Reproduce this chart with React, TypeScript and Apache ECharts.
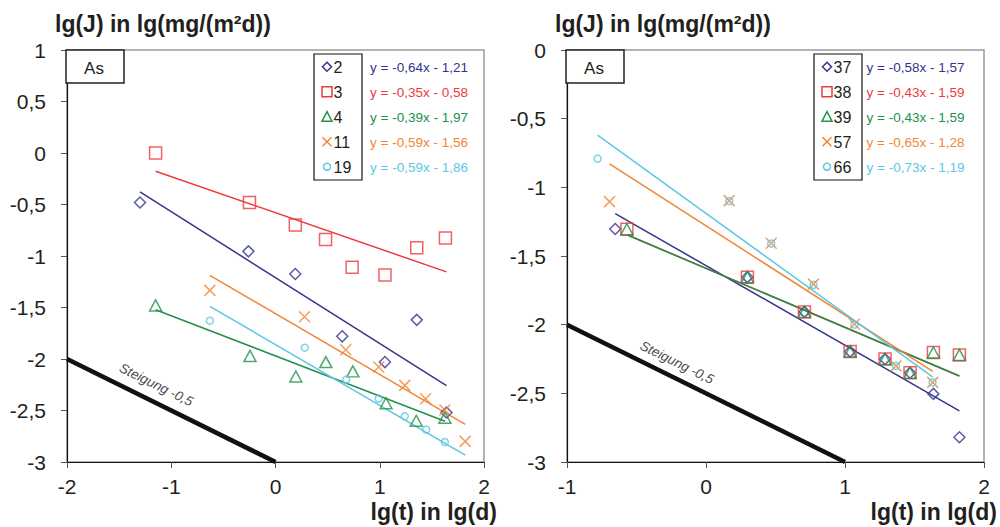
import React, { useEffect, useRef } from "react";
import * as echarts from "echarts";

// ---------- colours ----------
const NAVY = "#34348f";
const RED = "#ee3a3c";
const GREEN = "#24904a";
const ORANGE = "#f08636";
const CYAN = "#5cc8e2";
const TEXT = "#231f20";

// ---------- left panel ----------
const leftNames = ["2", "3", "4", "11", "19"];
const leftEquations = [
  "y = -0,64x - 1,21",
  "y = -0,35x - 0,58",
  "y = -0,39x - 1,97",
  "y = -0,59x - 1,56",
  "y = -0,59x - 1,86",
];
const leftSlopes = [-0.64, -0.35, -0.39, -0.59, -0.59];
const leftIntercepts = [-1.21, -0.58, -1.97, -1.56, -1.86];
const leftTrendX = [
  [-1.3, 1.64],
  [-1.15, 1.64],
  [-1.15, 1.625],
  [-0.63, 1.82],
  [-0.63, 1.82],
];
const l2x = [-1.3, -0.26, 0.19, 0.64, 1.05, 1.355, 1.64];
const l2y = [-0.48, -0.955, -1.175, -1.78, -2.03, -1.62, -2.52];
const l3x = [-1.15, -0.25, 0.19, 0.48, 0.735, 1.05, 1.355, 1.63];
const l3y = [0.0, -0.48, -0.7, -0.84, -1.11, -1.185, -0.92, -0.825];
const l4x = [-1.15, -0.245, 0.195, 0.483, 0.742, 1.06, 1.35, 1.625];
const l4y = [-1.48, -1.97, -2.17, -2.03, -2.12, -2.43, -2.6, -2.57];
const l11x = [-0.63, 0.278, 0.674, 0.99, 1.24, 1.44, 1.625, 1.82];
const l11y = [-1.334, -1.59, -1.91, -2.078, -2.256, -2.386, -2.495, -2.8];
const l19x = [-0.63, 0.28, 0.678, 0.99, 1.24, 1.445, 1.625];
const l19y = [-1.628, -1.89, -2.2, -2.385, -2.557, -2.686, -2.806];
const leftSlopeRefX = [-2, 0];
const leftSlopeRefY = [-2, -3];
const leftSlopeLabelAt = [-1.144, -2.25];

// ---------- right panel ----------
const rightNames = ["37", "38", "39", "57", "66"];
const rightEquations = [
  "y = -0,58x - 1,57",
  "y = -0,43x - 1,59",
  "y = -0,43x - 1,59",
  "y = -0,65x - 1,28",
  "y = -0,73x - 1,19",
];
const rightSlopes = [-0.58, -0.43, -0.43, -0.65, -0.73];
const rightIntercepts = [-1.57, -1.59, -1.59, -1.28, -1.19];
const rightTrendX = [
  [-0.653, 1.823],
  [-0.569, 1.823],
  [-0.569, 1.823],
  [-0.694, 1.631],
  [-0.78, 1.63],
];
const r37x = [-0.653, 0.298, 0.708, 1.037, 1.288, 1.468, 1.636, 1.823];
const r37y = [-1.303, -1.654, -1.907, -2.196, -2.25, -2.35, -2.504, -2.82];
const r38x = [-0.569, 0.298, 0.708, 1.037, 1.288, 1.468, 1.636, 1.823];
const r38y = [-1.305, -1.654, -1.907, -2.196, -2.25, -2.35, -2.203, -2.22];
const r39x = [-0.569, 0.298, 0.708, 1.037, 1.288, 1.468, 1.636, 1.823];
const r39y = [-1.305, -1.654, -1.907, -2.196, -2.25, -2.35, -2.203, -2.22];
const r57x = [-0.694, 0.167, 0.469, 0.773, 1.068, 1.367, 1.631];
const r57y = [-1.104, -1.097, -1.407, -1.705, -1.997, -2.3, -2.42];
const r66x = [-0.78, 0.167, 0.469, 0.773, 1.068, 1.367, 1.63];
const r66y = [-0.791, -1.1, -1.41, -1.71, -2.0, -2.3, -2.42];
const rightSlopeRefX = [-1, 1];
const rightSlopeRefY = [-2, -3];
const rightSlopeLabelAt = [-0.209, -2.275];

// ---------- axis ticks ----------
const leftXTicks = { min: -2, max: 2, interval: 1 };
const leftYTicks = { min: -3, max: 1, interval: 0.5 };
const rightXTicks = { min: -1, max: 2, interval: 1 };
const rightYTicks = { min: -3, max: 0, interval: 0.5 };

const seriesColors = [NAVY, RED, GREEN, ORANGE, CYAN];
const CROSS = "path://M0,0L10,10M0,10L10,0";
const markerSymbols = ["diamond", "rect", "triangle", CROSS, "circle"];
const markerSizes: any[] = [11, 12, [12, 11], 11, 7];

const zip = (xs: number[], ys: number[]) => xs.map((x, i) => [x, ys[i]]);

const fmt = (v: number) => String(v).replace(".", ",");

function buildPanel(
  idx: number,
  xs: number[][],
  ys: number[][],
  names: string[],
  slopes: number[],
  intercepts: number[],
  trendX: number[][],
  refX: number[],
  refY: number[],
  labelAt: number[]
) {
  const out: any[] = [];
  // trend lines
  names.forEach((n, i) => {
    const [a, b] = trendX[i];
    out.push({
      type: "line",
      name: "trend " + n,
      xAxisIndex: idx,
      yAxisIndex: idx,
      data: [
        [a, slopes[i] * a + intercepts[i]],
        [b, slopes[i] * b + intercepts[i]],
      ],
      symbol: "none",
      lineStyle: { color: seriesColors[i], width: 1.5 },
      z: 2,
      silent: true,
    });
  });
  // reference slope line
  out.push({
    type: "line",
    name: "Steigung " + idx,
    xAxisIndex: idx,
    yAxisIndex: idx,
    data: zip(refX, refY),
    symbol: "none",
    lineStyle: { color: "#111", width: 4.5 },
    z: 2,
    silent: true,
  });
  out.push({
    type: "scatter",
    name: "Steigung label " + idx,
    xAxisIndex: idx,
    yAxisIndex: idx,
    data: [labelAt],
    symbolSize: 0,
    silent: true,
    label: {
      show: true,
      position: "inside",
      formatter: "Steigung -0,5",
      rotate: -26.3,
      fontSize: 13.5,
      fontStyle: "italic",
      color: "#111",
      fontFamily: "Liberation Sans, Arial, sans-serif",
    },
    z: 4,
  });
  // scatter points
  names.forEach((n, i) => {
    out.push({
      type: "scatter",
      name: n,
      xAxisIndex: idx,
      yAxisIndex: idx,
      data: zip(xs[i], ys[i]),
      symbol: markerSymbols[i],
      symbolSize: markerSizes[i],
      itemStyle: {
        color: "rgba(0,0,0,0)",
        borderColor: seriesColors[i],
        borderWidth: 1.5,
      },
      z: 3,
      silent: true,
    });
  });
  return out;
}

function legendGraphics(
  boxX: number,
  names: string[],
  equations: string[],
  eqX: number
) {
  const els: any[] = [];
  const top = 54;
  els.push({
    type: "rect",
    shape: { x: boxX, y: top, width: 48, height: 126 },
    style: { fill: "#fff", stroke: "#111", lineWidth: 1.2 },
    z: 10,
  });
  const cx = boxX + 13;
  names.forEach((n, i) => {
    const cy = 66.7 + i * 25;
    const c = seriesColors[i];
    const st = { fill: "none", stroke: c, lineWidth: 1.5 };
    if (i === 0)
      els.push({
        type: "polygon",
        shape: { points: [[cx, cy - 4.5], [cx + 4.5, cy], [cx, cy + 4.5], [cx - 4.5, cy]] },
        style: st,
        z: 11,
      });
    else if (i === 1)
      els.push({ type: "rect", shape: { x: cx - 5, y: cy - 5, width: 10, height: 10 }, style: st, z: 11 });
    else if (i === 2)
      els.push({
        type: "polygon",
        shape: { points: [[cx, cy - 5], [cx + 5, cy + 4.5], [cx - 5, cy + 4.5]] },
        style: st,
        z: 11,
      });
    else if (i === 3) {
      els.push({ type: "line", shape: { x1: cx - 4.5, y1: cy - 4.5, x2: cx + 4.5, y2: cy + 4.5 }, style: st, z: 11 });
      els.push({ type: "line", shape: { x1: cx - 4.5, y1: cy + 4.5, x2: cx + 4.5, y2: cy - 4.5 }, style: st, z: 11 });
    } else els.push({ type: "circle", shape: { cx, cy, r: 3.5 }, style: st, z: 11 });
    els.push({
      type: "text",
      style: {
        text: n,
        x: boxX + 19.5,
        y: cy + 1,
        fill: TEXT,
        font: "16px Liberation Sans, Arial, sans-serif",
        textAlign: "left",
        textVerticalAlign: "middle",
      },
      z: 11,
    });
    els.push({
      type: "text",
      style: {
        text: equations[i],
        x: eqX,
        y: cy + 0.5,
        fill: c,
        font: "13.5px Liberation Sans, Arial, sans-serif",
        textAlign: "left",
        textVerticalAlign: "middle",
      },
      z: 11,
    });
  });
  return els;
}

function asBox(x: number) {
  return [
    {
      type: "rect",
      shape: { x, y: 50, width: 58, height: 33 },
      style: { fill: "#fff", stroke: "#222", lineWidth: 1.5 },
      z: 10,
    },
    {
      type: "text",
      style: {
        text: "As",
        x: x + 28,
        y: 68,
        fill: TEXT,
        font: "17px Liberation Sans, Arial, sans-serif",
        textAlign: "center",
        textVerticalAlign: "middle",
      },
      z: 11,
    },
  ];
}

function titleText(text: string, x: number, y: number, align: string) {
  return {
    type: "text",
    style: {
      text,
      x,
      y,
      fill: TEXT,
      font: "bold 23px Liberation Sans, Arial, sans-serif",
      textAlign: align,
      textVerticalAlign: "middle",
    },
    z: 12,
  };
}

function axisPair(t: { min: number; max: number; interval: number }, gridIndex: number, isX: boolean) {
  return {
    type: "value",
    gridIndex,
    min: t.min,
    max: t.max,
    interval: t.interval,
    splitLine: { show: false },
    axisLine: { show: true, onZero: false, lineStyle: { color: "#111", width: 1.2 } },
    axisTick: { show: true, inside: false, length: 6, lineStyle: { color: "#555", width: 1 } },
    axisLabel: {
      color: TEXT,
      fontSize: 21,
      fontFamily: "Liberation Sans, Arial, sans-serif",
      margin: isX ? 14 : 21,
      formatter: (v: number) => fmt(v),
    },
  };
}

export default function App() {
  const ref = useRef<HTMLDivElement>(null);
  useEffect(() => {
    if (!ref.current) return;
    const chart = echarts.init(ref.current, undefined, { renderer: "svg" });
    const series = [
      ...buildPanel(
        0,
        [l2x, l3x, l4x, l11x, l19x],
        [l2y, l3y, l4y, l11y, l19y],
        leftNames,
        leftSlopes,
        leftIntercepts,
        leftTrendX,
        leftSlopeRefX,
        leftSlopeRefY,
        leftSlopeLabelAt
      ),
      ...buildPanel(
        1,
        [r37x, r38x, r39x, r57x, r66x],
        [r37y, r38y, r39y, r57y, r66y],
        rightNames,
        rightSlopes,
        rightIntercepts,
        rightTrendX,
        rightSlopeRefX,
        rightSlopeRefY,
        rightSlopeLabelAt
      ),
    ];
    chart.setOption({
      animation: false,
      backgroundColor: "#fff",
      grid: [
        {
          left: 67,
          right: 516,
          top: 50,
          bottom: 65,
          show: true,
          borderColor: "#9a9a9a",
          borderWidth: 1.5,
          backgroundColor: "rgba(0,0,0,0)",
          outerBoundsMode: "none",
        },
        {
          left: 567,
          right: 16,
          top: 50,
          bottom: 65,
          show: true,
          borderColor: "#9a9a9a",
          borderWidth: 1.5,
          backgroundColor: "rgba(0,0,0,0)",
          outerBoundsMode: "none",
        },
      ],
      xAxis: [axisPair(leftXTicks, 0, true), axisPair(rightXTicks, 1, true)],
      yAxis: [axisPair(leftYTicks, 0, false), axisPair(rightYTicks, 1, false)],
      series,
      graphic: [
        titleText("lg(J) in lg(mg/(m²d))", 55, 24, "left"),
        titleText("lg(J) in lg(mg/(m²d))", 555, 24, "left"),
        titleText("lg(t) in lg(d)", 497, 512, "right"),
        titleText("lg(t) in lg(d)", 997, 512, "right"),
        ...asBox(66),
        ...asBox(566),
        ...legendGraphics(314, leftNames, leftEquations, 370),
        ...legendGraphics(814, rightNames, rightEquations, 866.5),
      ],
    });
    return () => chart.dispose();
  }, []);
  return (
    <div
      ref={ref}
      style={{ position: "fixed", left: 0, top: 0, width: 1000, height: 527, background: "#fff" }}
    />
  );
}
